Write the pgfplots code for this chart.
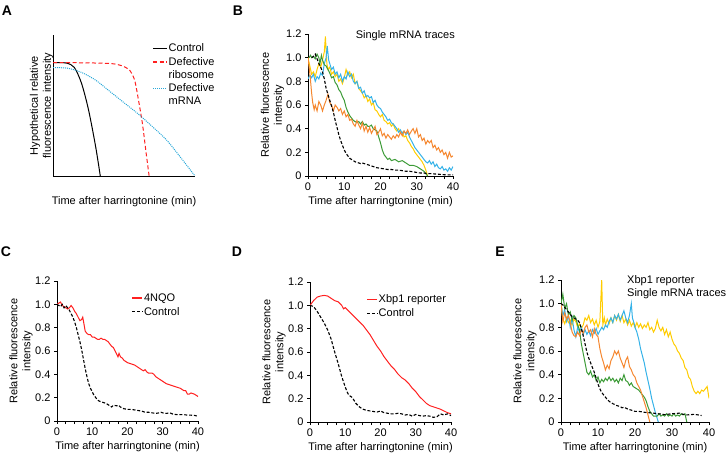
\documentclass[border=0pt]{standalone}
\usepackage{fontspec}
\setmainfont{Liberation Sans}
\usepackage{pgfplots}
\pgfplotsset{compat=1.18}
\definecolor{tyellow}{HTML}{FFCC00}
\definecolor{tblue}{HTML}{35B2E8}
\definecolor{tgreen}{HTML}{3C9B37}
\definecolor{torange}{HTML}{F5872F}
\definecolor{tred}{HTML}{FF2020}
\definecolor{tdot}{HTML}{2AA8D8}

\pgfplotsset{
  base/.style={
    scale only axis,
    clip mode=individual,
    axis lines=left,
    axis line style={-, line width=0.8pt},
    /pgf/number format/assume math mode=true,
    xlabel={Time after harringtonine (min)},
    xlabel style={at={(axis description cs:0.5,0)}, anchor=center, yshift=-26pt},
    legend cell align=left,
    legend style={draw=none, fill=none, inner sep=0pt, nodes={inner sep=1pt}},
  },
  panel/.style={
    base,
    tick align=outside,
    tick style={black, line width=0.8pt},
    major tick length=3pt, minor tick length=3pt,
    xmin=0, xmax=40, ymin=0, ymax=1.2,
    xtick={0,10,20,30,40}, minor x tick num=3,
    ytick={0,0.2,0.4,0.6,0.8,1,1.2},
    yticklabels={0,0.2,0.4,0.6,0.8,1.0,1.2},
    ylabel={Relative fluorescence\\intensity},
    ylabel style={anchor=center, align=center},
    legend style={row sep=2.5pt},
    legend image code/.code={\draw[#1, line width=1.1pt] (0pt,0pt) -- (10pt,0pt);},
  },
  ctrl/.style={black, line width=1.1pt, dash pattern=on 3pt off 1.8pt},
  tr/.style={line width=1pt},
}

\begin{document}
\begin{tikzpicture}[font=\fontsize{11}{13}\selectfont]
\path[use as bounding box] (0,0) rectangle (727pt,456pt);

% panel letters
\node[font=\bfseries\fontsize{14}{14}\selectfont] at (7pt,445.5pt) {A};
\node[font=\bfseries\fontsize{14}{14}\selectfont] at (238pt,445pt) {B};
\node[font=\bfseries\fontsize{14}{14}\selectfont] at (6pt,204pt) {C};
\node[font=\bfseries\fontsize{14}{14}\selectfont] at (237pt,204pt) {D};
\node[font=\bfseries\fontsize{14}{14}\selectfont] at (500pt,204pt) {E};

% A: hypothetical
\begin{axis}[base, at={(53pt,280pt)}, anchor=south west, width=142pt, height=141pt,
  xmin=0, xmax=10, ymin=0, ymax=1, xtick=\empty, ytick=\empty,
  ylabel={Hypothetical relative\\fluorescence intensity},
  ylabel style={at={(axis description cs:-0.08,0.5)}, anchor=center, align=center},
  legend style={at={(0.70,0.945)}, anchor=north west, row sep=1.8pt},
  legend image code/.code={\draw[#1, line width=1.1pt] (0pt,0pt) -- (14pt,0pt);}]
\addplot[black, line width=1pt, smooth, tension=0.5, forget plot] coordinates {
 (0,0.804)(0.5,0.804)(1,0.80)(1.5,0.77)(2,0.66)(2.5,0.47)(3,0.21)(3.33,0)};
\addplot[tred, line width=1pt, dash pattern=on 4pt off 2.5pt, smooth, tension=0.4, forget plot] coordinates {
 (0,0.804)(2,0.803)(3.5,0.80)(4.3,0.795)(4.9,0.78)(5.4,0.75)(5.75,0.68)(6.0,0.55)(6.3,0.37)(6.55,0.17)(6.77,0)};
\addplot[tdot, line width=1pt, dash pattern=on 1pt off 1pt, smooth, tension=0.5, forget plot] coordinates {
 (0,0.768)(1,0.765)(2,0.735)(3,0.68)(4,0.60)(5,0.52)(6,0.44)(7,0.35)(8,0.255)(9,0.13)(10,0)};
\addlegendimage{black}
\addlegendentry{Control}
\addlegendimage{tred, dash pattern=on 4pt off 2.5pt}
\addlegendentry{Defective}
\addlegendimage{empty legend}
\addlegendentry{ribosome}
\addlegendimage{tdot, dash pattern=on 1pt off 1pt}
\addlegendentry{Defective}
\addlegendimage{empty legend}
\addlegendentry{mRNA}
\end{axis}

% B: single mRNA traces
\begin{axis}[panel, at={(308pt,280pt)}, anchor=south west, width=145pt, height=142pt,
  ylabel style={at={(axis description cs:-0.245,0.5)}}]
\addplot[tr, tyellow] coordinates {
 (0,1.0)(0.5,0.93)(1,0.86)(1.5,0.88)(2,0.84)(2.5,0.9)(3,0.95)(3.5,0.92)(4,0.98)(4.5,1.05)(4.8,1.18)(5.2,0.95)
 (5.5,0.9)(6,0.92)(6.5,0.86)(7,0.88)(7.5,0.84)(8,0.86)(8.5,0.80)(9,0.82)(9.5,0.78)(10,0.83)(10.5,0.9)(11,0.85)
 (11.5,0.88)(12,0.83)(12.5,0.86)(13,0.78)(13.5,0.8)(14,0.74)(14.5,0.72)(15,0.7)(15.5,0.66)(16,0.68)(16.5,0.63)
 (17,0.65)(17.5,0.6)(18,0.62)(18.5,0.56)(19,0.55)(19.5,0.52)(20,0.5)(20.5,0.52)(21,0.47)(21.5,0.46)(22,0.44)
 (22.5,0.45)(23,0.42)(23.5,0.44)(24,0.4)(24.5,0.38)(25,0.4)(25.5,0.36)(26,0.37)(26.5,0.33)(27,0.34)(27.5,0.3)
 (28,0.28)(28.5,0.25)(29,0.23)(29.5,0.2)(30,0.18)(30.5,0.16)(31,0.14)(31.5,0.12)(32,0.09)(32.5,0.05)(33,0.0)};
\addplot[tr, tblue] coordinates {
 (0,0.82)(0.5,0.85)(1,0.83)(1.5,0.86)(2,0.80)(2.5,0.84)(3,0.82)(3.5,0.87)(4,0.85)(4.5,0.95)(5,1.0)(5.3,1.1)
 (5.7,0.98)(6,0.95)(6.5,0.9)(7,0.92)(7.5,0.86)(8,0.88)(8.5,0.83)(9,0.86)(9.5,0.8)(10,0.84)(10.5,0.82)(11,0.88)
 (11.5,0.84)(12,0.86)(12.5,0.8)(13,0.78)(13.5,0.8)(14,0.74)(14.5,0.75)(15,0.7)(15.5,0.72)(16,0.67)(16.5,0.68)
 (17,0.66)(17.5,0.67)(18,0.62)(18.5,0.64)(19,0.6)(19.5,0.58)(20,0.57)(20.5,0.54)(21,0.52)(21.5,0.5)(22,0.47)
 (22.5,0.48)(23,0.45)(23.5,0.44)(24,0.42)(24.5,0.4)(25,0.37)(25.5,0.39)(26,0.36)(26.5,0.38)(27,0.35)(27.5,0.37)
 (28,0.33)(28.5,0.3)(29,0.27)(29.5,0.24)(30,0.22)(30.5,0.2)(31,0.18)(31.5,0.16)(32,0.14)(32.5,0.12)(33,0.11)
 (33.5,0.13)(34,0.1)(34.5,0.12)(35,0.08)(35.5,0.1)(36,0.07)(36.5,0.06)(37,0.08)(37.5,0.05)(38,0.06)(38.5,0.04)
 (39,0.07)(39.5,0.05)(40,0.08)};
\addplot[tr, tgreen] coordinates {
 (0.3,1.0)(0.7,1.02)(1,1.0)(1.5,1.01)(2,0.99)(2.5,1.03)(3,1.0)(3.3,0.95)(3.7,1.02)(4,0.98)(4.5,0.94)(5,0.93)
 (5.5,0.9)(6,0.87)(6.5,0.83)(7,0.84)(7.5,0.79)(8,0.77)(8.5,0.73)(9,0.71)(9.5,0.67)(10,0.64)(10.5,0.58)(11,0.54)
 (11.5,0.51)(12,0.49)(12.5,0.47)(13,0.46)(13.5,0.45)(14,0.46)(14.5,0.44)(15,0.46)(15.5,0.43)(16,0.44)(16.5,0.42)
 (17,0.42)(17.5,0.43)(18,0.4)(18.5,0.39)(19,0.38)(19.5,0.33)(20,0.28)(20.5,0.22)(21,0.18)(21.5,0.16)(22,0.14)
 (22.5,0.15)(23,0.13)(24,0.14)(25,0.12)(26,0.13)(27,0.11)(28,0.09)(29,0.09)(30,0.08)(31,0.06)(32,0.04)(33,0.0)};
\addplot[tr, torange] coordinates {
 (0,1.0)(0.3,0.92)(0.6,0.84)(1,0.7)(1.3,0.62)(1.7,0.56)(2,0.6)(2.5,0.55)(3,0.63)(3.5,0.6)(4,0.55)(4.5,0.6)
 (5,0.64)(5.5,0.69)(6,0.62)(6.5,0.6)(7,0.55)(7.5,0.6)(8,0.58)(8.5,0.55)(9,0.57)(9.5,0.52)(10,0.55)(10.5,0.5)
 (11,0.52)(11.5,0.47)(12,0.48)(12.5,0.44)(13,0.42)(13.5,0.47)(14,0.43)(14.5,0.4)(15,0.45)(15.5,0.38)(16,0.42)
 (16.5,0.37)(17,0.41)(17.5,0.36)(18,0.39)(18.5,0.42)(19,0.35)(19.5,0.37)(20,0.4)(20.5,0.34)(21,0.36)(21.5,0.32)
 (22,0.35)(22.5,0.33)(23,0.31)(23.5,0.34)(24,0.32)(24.5,0.35)(25,0.33)(25.5,0.37)(26,0.34)(26.5,0.38)(27,0.36)
 (27.5,0.39)(28,0.35)(28.5,0.38)(29,0.4)(29.5,0.36)(30,0.4)(30.5,0.33)(31,0.35)(31.5,0.3)(32,0.32)(32.5,0.27)
 (33,0.3)(33.5,0.28)(34,0.3)(34.5,0.24)(35,0.26)(35.5,0.22)(36,0.24)(36.5,0.2)(37,0.22)(37.5,0.18)(38,0.2)
 (38.5,0.15)(39,0.2)(39.5,0.16)(40,0.17)};
\addplot[ctrl] coordinates {
 (1,1.0)(1.5,1.01)(2,1.03)(2.5,0.99)(3,0.95)(3.5,0.92)(4,0.88)(4.5,0.82)(5,0.74)(5.5,0.69)(6,0.64)(6.5,0.59)
 (7,0.54)(7.5,0.47)(8,0.41)(8.5,0.35)(9,0.30)(9.5,0.26)(10,0.22)(10.5,0.19)(11,0.17)(11.5,0.15)(12,0.14)
 (12.5,0.13)(13,0.12)(13.5,0.115)(14,0.11)(14.5,0.105)(15,0.11)(15.5,0.105)(16,0.1)(17,0.09)(18,0.08)(19,0.07)
 (20,0.065)(21,0.06)(22,0.055)(23,0.055)(24,0.05)(25,0.05)(26,0.045)(27,0.04)(28,0.04)(29,0.035)(30,0.03)
 (31,0.025)(32,0.025)(33,0.02)(34,0.02)(35,0.017)(36,0.015)(37,0.012)(38,0.01)(39,0.01)(40,0.01)};
\node[anchor=east, inner sep=0pt] at (rel axis cs:1,1) [xshift=2pt, yshift=-2pt] {Single mRNA traces};
\end{axis}

% C: 4NQO
\begin{axis}[panel, at={(57pt,35pt)}, anchor=south west, width=141pt, height=140pt,
  ylabel style={at={(axis description cs:-0.255,0.5)}},
  legend style={at={(0.53,0.92)}, anchor=north west}]
\addplot[tr, tred] coordinates {
 (0,1.0)(0.5,1.01)(1,1.02)(1.5,0.99)(2,0.98)(2.5,0.97)(3,0.96)(3.5,0.97)(4,0.99)(4.5,0.97)(5,0.94)(5.5,0.92)
 (6,0.89)(6.5,0.86)(7,0.87)(7.3,0.89)(7.6,0.84)(8,0.77)(8.5,0.75)(9,0.74)(9.5,0.74)(10,0.72)(10.5,0.72)(11,0.71)
 (11.5,0.7)(12,0.7)(12.5,0.71)(13,0.7)(13.5,0.7)(14,0.69)(14.5,0.68)(15,0.66)(15.5,0.64)(16,0.63)(16.5,0.6)
 (17,0.57)(17.3,0.55)(17.6,0.58)(18,0.55)(18.5,0.54)(19,0.52)(19.5,0.51)(20,0.5)(21,0.49)(22,0.48)(22.5,0.47)
 (23,0.46)(23.5,0.45)(24,0.44)(24.5,0.43)(25,0.44)(25.5,0.42)(26,0.41)(27,0.41)(27.5,0.4)(28,0.38)(29,0.36)
 (30,0.34)(31,0.32)(32,0.31)(33,0.3)(34,0.29)(35,0.28)(35.5,0.27)(36,0.26)(36.5,0.26)(37,0.23)(37.5,0.23)
 (38,0.24)(39,0.23)(40,0.21)};
\addlegendentry{4NQO}
\addplot[ctrl] coordinates {
 (0,1.0)(0.5,0.99)(1,0.98)(1.5,1.0)(2,0.97)(2.5,0.99)(3,0.97)(3.5,0.95)(4,0.92)(4.5,0.89)(5,0.85)(5.5,0.8)
 (6,0.74)(6.5,0.68)(7,0.61)(7.5,0.53)(8,0.45)(8.5,0.38)(9,0.32)(9.5,0.28)(10,0.25)(10.5,0.22)(11,0.2)
 (11.5,0.18)(12,0.17)(13,0.16)(14,0.15)(15,0.13)(15.5,0.12)(16,0.135)(17,0.13)(17.5,0.135)(18,0.12)(19,0.105)
 (20,0.1)(21,0.1)(22,0.095)(23,0.09)(24,0.085)(25,0.075)(26,0.075)(27,0.07)(28,0.065)(29,0.07)(29.5,0.075)
 (30,0.07)(31,0.065)(32,0.07)(33,0.058)(34,0.055)(35,0.055)(36,0.055)(37,0.05)(38,0.05)(39,0.048)(40,0.04)};
\addlegendentry{Control}
\end{axis}

% D: Xbp1 reporter
\begin{axis}[panel, at={(310pt,34pt)}, anchor=south west, width=141pt, height=140pt,
  ylabel style={at={(axis description cs:-0.255,0.5)}},
  legend style={at={(0.40,0.92)}, anchor=north west}]
\addplot[tr, tred] coordinates {
 (0,1.0)(1,1.04)(2,1.07)(3,1.08)(4,1.085)(5,1.08)(6,1.06)(7,1.04)(8,1.03)(9,1.0)(9.5,0.97)(10,0.98)(11,0.95)
 (12,0.92)(13,0.89)(14,0.86)(15,0.83)(16,0.79)(17,0.75)(18,0.7)(19,0.65)(20,0.61)(21,0.56)(22,0.52)(23,0.48)
 (24,0.45)(25,0.41)(26,0.38)(27,0.36)(28,0.33)(29,0.29)(30,0.26)(31,0.22)(32,0.19)(33,0.16)(34,0.14)(35,0.13)
 (36,0.12)(37,0.11)(38,0.095)(39,0.08)(40,0.07)};
\addlegendentry{Xbp1 reporter}
\addplot[ctrl] coordinates {
 (0,1.0)(1,0.99)(2,0.95)(3,0.9)(4,0.85)(5,0.79)(6,0.71)(7,0.6)(8,0.5)(9,0.39)(10,0.3)(10.5,0.26)(11,0.23)
 (11.5,0.22)(12,0.21)(13,0.16)(14,0.13)(15,0.11)(16,0.1)(17,0.095)(18,0.09)(19,0.085)(20,0.095)(21,0.08)
 (22,0.075)(23,0.07)(24,0.07)(25,0.075)(26,0.07)(27,0.06)(28,0.065)(29,0.05)(30,0.065)(31,0.055)(32,0.05)
 (33,0.055)(34,0.05)(35,0.04)(36,0.045)(37,0.07)(38,0.06)(39,0.07)(40,0.055)};
\addlegendentry{Control}
\end{axis}

% E: Xbp1 single traces
\begin{axis}[panel, at={(561pt,34pt)}, anchor=south west, width=148pt, height=142pt,
  ylabel style={at={(axis description cs:-0.243,0.5)}}]
\addplot[tr, tyellow] coordinates {
 (0,1.0)(0.5,0.87)(1,0.83)(1.5,0.88)(2,0.84)(2.5,0.86)(3,0.82)(3.5,0.87)(4,0.85)(4.5,0.8)(5,0.83)(5.5,0.79)
 (6,0.82)(6.5,0.88)(7,0.86)(7.5,0.9)(8,0.84)(8.5,0.87)(9,0.82)(9.5,0.86)(10,0.8)(10.5,0.85)(11,1.2)(11.3,0.82)
 (11.7,0.88)(12,0.82)(12.5,0.87)(13,0.83)(13.5,0.88)(14,0.84)(14.5,0.9)(15,0.86)(15.5,0.91)(16,0.85)(16.5,0.9)
 (17,0.84)(17.5,0.87)(18,0.82)(18.5,0.86)(19,0.81)(19.5,0.84)(20,0.8)(20.5,0.84)(21,0.8)(21.5,0.83)(22,0.79)
 (22.5,0.82)(23,0.8)(23.5,0.84)(24,0.78)(24.5,0.8)(25,0.76)(25.5,0.79)(26,0.86)(26.5,0.8)(27,0.77)(27.5,0.8)
 (28,0.74)(28.5,0.78)(29,0.72)(29.5,0.76)(30,0.7)(30.5,0.66)(31,0.64)(31.5,0.6)(32,0.58)(32.5,0.54)(33,0.52)
 (33.5,0.46)(34,0.44)(34.5,0.38)(35,0.36)(35.5,0.3)(36,0.26)(36.5,0.24)(37,0.26)(37.5,0.24)(38,0.27)(38.5,0.26)
 (39,0.28)(39.5,0.3)(40,0.2)};
\addplot[tr, tblue] coordinates {
 (0,1.0)(0.5,0.9)(1,0.95)(1.5,0.85)(2,0.9)(2.5,0.8)(3,0.88)(3.5,0.78)(4,0.72)(4.5,0.8)(5,0.76)(5.5,0.8)
 (6,0.74)(6.5,0.78)(7,0.74)(7.5,0.77)(8,0.73)(8.5,0.78)(9,0.75)(9.5,0.79)(10,0.74)(10.5,0.77)(11,0.8)(11.5,0.78)
 (12,0.82)(12.5,0.8)(13,0.85)(13.5,0.88)(14,0.84)(14.5,0.9)(15,0.87)(15.5,0.91)(16,0.86)(16.5,0.9)(17,0.94)
 (17.5,0.88)(18,0.84)(18.5,0.9)(19,1.0)(19.3,0.88)(19.7,0.84)(20,0.8)(20.5,0.76)(21,0.7)(21.5,0.62)(22,0.56)
 (22.5,0.5)(23,0.42)(23.5,0.35)(24,0.28)(24.5,0.2)(25,0.14)(25.5,0.08)(26,0.03)(26.3,0.0)};
\addplot[tr, tgreen] coordinates {
 (0,1.0)(0.5,1.08)(1,0.96)(1.5,1.0)(2,0.9)(2.5,0.93)(3,0.86)(3.5,0.9)(4,0.88)(4.5,0.82)(5,0.78)(5.5,0.66)
 (6,0.58)(6.5,0.5)(7,0.42)(7.5,0.4)(8,0.43)(8.5,0.38)(9,0.4)(9.5,0.35)(10,0.38)(10.5,0.33)(11,0.36)(11.5,0.34)
 (12,0.37)(12.5,0.35)(13,0.38)(13.5,0.35)(14,0.37)(14.5,0.34)(15,0.36)(15.5,0.33)(16,0.37)(16.5,0.35)(17,0.4)
 (17.5,0.35)(18,0.34)(18.5,0.31)(19,0.33)(19.5,0.3)(20,0.29)(20.5,0.28)(21,0.27)(21.5,0.25)(22,0.23)(22.5,0.21)
 (23,0.18)(23.5,0.13)(24,0.09)(24.5,0.07)(25,0.05)(26,0.05)(26.5,0.07)(27,0.05)(27.5,0.06)(28,0.05)(28.5,0.07)
 (29,0.05)(29.5,0.06)(30,0.05)(30.5,0.07)(31,0.05)(31.5,0.06)(32,0.05)(32.5,0.07)(33,0.06)(33.5,0.07)(34,0.0)};
\addplot[tr, torange] coordinates {
 (0,1.0)(0.5,0.85)(1,0.92)(1.5,0.87)(2,0.9)(2.5,0.84)(3,0.76)(3.5,0.73)(4,0.72)(4.5,0.76)(5,0.73)(5.5,0.78)
 (6,0.75)(6.5,0.8)(7,0.82)(7.5,0.76)(8,0.78)(8.5,0.72)(9,0.79)(9.5,0.74)(10,0.72)(10.5,0.62)(11,0.55)(11.5,0.5)
 (12,0.44)(12.5,0.48)(13,0.45)(13.5,0.52)(14,0.55)(14.5,0.6)(15,0.57)(15.5,0.6)(16,0.54)(16.5,0.5)(17,0.46)
 (17.5,0.52)(18,0.55)(18.5,0.47)(19,0.44)(19.5,0.4)(20,0.38)(20.5,0.33)(21,0.3)(21.5,0.27)(22,0.22)(22.5,0.17)
 (23,0.12)(23.5,0.06)(24,0.0)};
\addplot[ctrl] coordinates {
 (0,1.0)(0.5,0.99)(1,0.97)(1.5,0.95)(2,0.93)(2.5,0.91)(3,0.89)(3.5,0.88)(4,0.87)(4.5,0.86)(5,0.84)(5.5,0.79)
 (6,0.73)(6.5,0.66)(7,0.59)(7.5,0.54)(8,0.5)(8.5,0.46)(9,0.42)(9.5,0.37)(10,0.32)(10.5,0.28)(11,0.25)(11.5,0.23)
 (12,0.21)(12.5,0.19)(13,0.175)(13.5,0.165)(14,0.155)(15,0.14)(16,0.13)(16.5,0.12)(17,0.125)(18,0.11)(19,0.1)
 (20,0.09)(21,0.09)(22,0.085)(23,0.08)(24,0.078)(25,0.075)(26,0.07)(27,0.068)(28,0.062)(29,0.066)(30,0.07)
 (31,0.072)(32,0.075)(33,0.065)(34,0.06)(35,0.062)(36,0.065)(37,0.06)(38,0.055)};
\node[anchor=north west, align=left, inner sep=0pt] at (rel axis cs:0.446,1.035) {Xbp1 reporter\\Single mRNA traces};
\end{axis}
\end{tikzpicture}
\end{document}
